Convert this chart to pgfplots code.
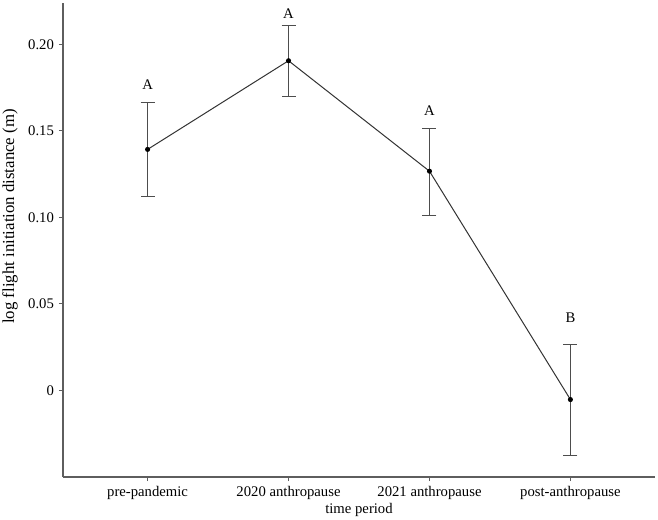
\documentclass[border=0pt]{standalone}
\usepackage{fontspec}
\setmainfont{Liberation Serif}
\usepackage{pgfplots}
\pgfplotsset{compat=1.18}

\definecolor{linegray}{HTML}{333333}
\definecolor{bargray}{HTML}{4D4D4D}
\definecolor{axgray}{HTML}{5E5E5E}

\pgfplotstableread{
x y ep em
1 0.1393 0.0271 0.0274
2 0.1906 0.0206 0.0205
3 0.1267 0.0247 0.0254
4 -0.0054 0.0318 0.0322
}\fidtable

\begin{document}
\fontsize{14.7}{17}\selectfont
\begin{tikzpicture}
\begin{axis}[
  scale only axis,
  width=592pt, height=474pt,
  xmin=0.4, xmax=4.6,
  ymin=-0.0502, ymax=0.224,
  axis x line*=bottom, axis y line*=left,
  axis line style={draw=axgray, line width=1.1pt},
  tick align=outside,
  major tick length=4pt,
  tick style={draw=axgray, line width=1.1pt},
  xtick={1,2,3,4},
  xticklabels={pre-pandemic, 2020 anthropause, 2021 anthropause, post-anthropause},
  ytick={0,0.05,0.1,0.15,0.2},
  yticklabels={0,0.05,0.10,0.15,0.20},
  xlabel={time period},
  ylabel={\fontsize{16.8}{18}\selectfont log flight initiation distance (m)},
  every axis x label/.style={at={(axis description cs:0.5,0)}, yshift=-33pt, anchor=center},
  every axis y label/.style={at={(axis description cs:0,0.5496)}, xshift=-53pt, rotate=90, anchor=center},
  clip=false,
]
\addplot[color=linegray, line width=1pt,
  mark=*, mark size=2pt, mark options={fill=black, draw=black},
  error bars/.cd, y dir=both, y explicit,
  error bar style={line width=1.1pt, color=bargray},
  error mark options={rotate=90, mark size=7pt, line width=1.1pt, color=bargray}]
  table[x=x, y=y, y error plus=ep, y error minus=em] {\fidtable};
\node at (axis cs:1,0.1765) {A};
\node at (axis cs:2,0.2179) {A};
\node at (axis cs:3,0.1620) {A};
\node at (axis cs:4,0.0417) {B};
\end{axis}
\pgfresetboundingbox
\path[use as bounding box] (-63pt,-42pt) rectangle (595pt,477pt);
\end{tikzpicture}
\end{document}
